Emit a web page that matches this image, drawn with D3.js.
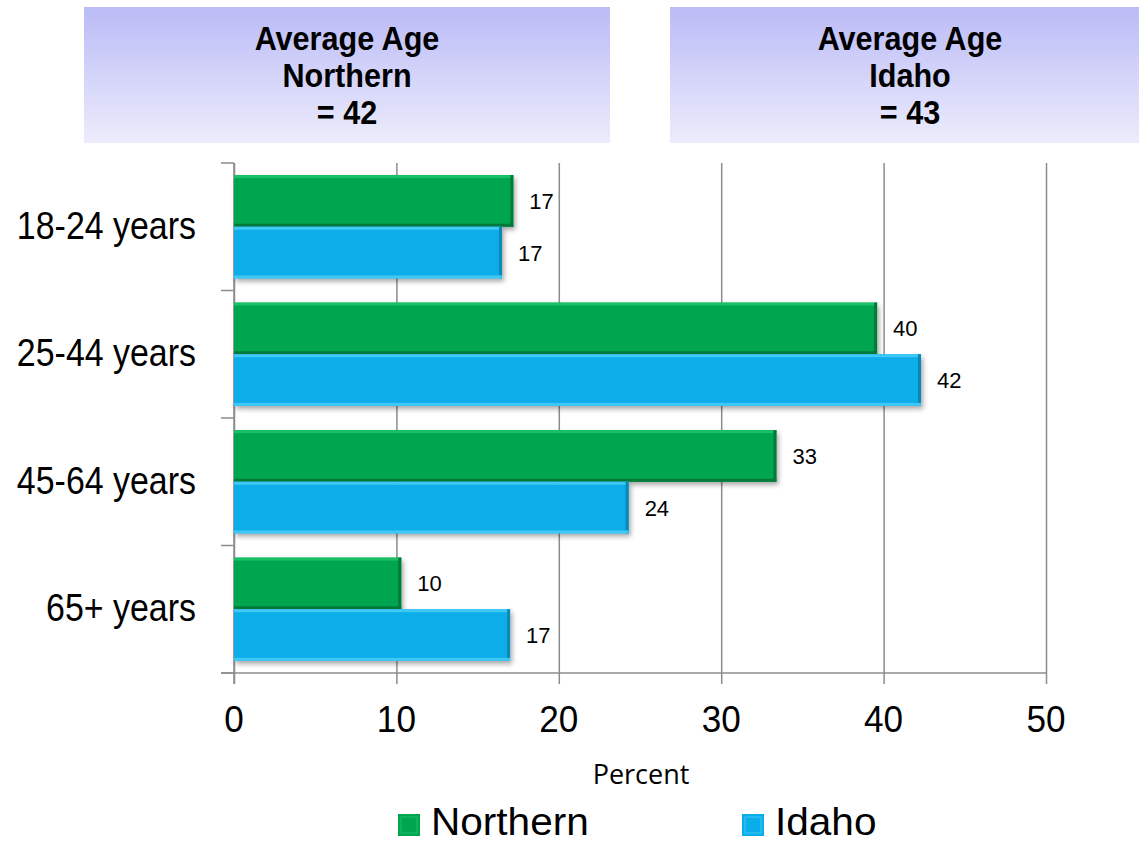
<!DOCTYPE html>
<html>
<head>
<meta charset="utf-8">
<script src="https://cdn.jsdelivr.net/npm/d3@7"></script>
<style>
  body { margin: 0; background: #fff; }
  svg { display: block; font-family: "Liberation Sans", Arial, sans-serif; }
</style>
</head>
<body>
<div id="chart"></div>
<script>
// chart data
const categories = ["18-24 years", "25-44 years", "45-64 years", "65+ years"];
const seriesNames = ["Northern", "Idaho"];
const northern = [17.2, 39.6, 33.4, 10.3];
const idaho = [16.5, 42.3, 24.3, 17.0];
const labelsNorthern = ["17", "40", "33", "10"];
const labelsIdaho = ["17", "42", "24", "17"];
const xTicks = [0, 10, 20, 30, 40, 50];
const headerLines = [
    ["Average Age", "Northern", "= 42"],
    ["Average Age", "Idaho", "= 43"]
];

const W = 1139, H = 844;
const COLORS = ["#00a64f", "#09ade9"];
const LIGHT = ["#19c066", "#3fc8f5"];
const DARK = ["#037a3a", "#0789b8"];

const svg = d3.select("#chart").append("svg")
    .attr("width", W)
    .attr("height", H);

// text squeezed / stretched horizontally like the original
function squeezedText(parent, px, py, sx, str) {
    return parent.append("text")
        .attr("transform", "translate(" + px + "," + py + ") scale(" + sx + ",1)")
        .text(str);
}

const defs = svg.append("defs");
let hg = defs.append("linearGradient").attr("id", "hdr")
    .attr("x1", 0).attr("y1", 0).attr("x2", 0).attr("y2", 1);
hg.append("stop").attr("offset", "0%").attr("stop-color", "#bbbbf7");
hg.append("stop").attr("offset", "100%").attr("stop-color", "#ececfc");

let shadow = defs.append("filter").attr("id", "shadow")
    .attr("x", "-5%").attr("y", "-20%").attr("width", "115%").attr("height", "150%");
shadow.append("feDropShadow")
    .attr("dx", 2).attr("dy", 3).attr("stdDeviation", 2.5)
    .attr("flood-color", "#000").attr("flood-opacity", 0.35);

// header boxes
const boxes = [{ x: 84, w: 526, cx: 347 }, { x: 670, w: 480, cx: 910 }];
boxes.forEach(function (b, i) {
    svg.append("rect")
        .attr("x", b.x).attr("y", 7)
        .attr("width", b.w).attr("height", 136)
        .attr("fill", "url(#hdr)");
    headerLines[i].forEach(function (t, j) {
        squeezedText(svg, b.cx, 50 + j * 37, 0.9, t)
            .attr("text-anchor", "middle")
            .attr("font-size", 34).attr("font-weight", "bold");
    });
});

// plot area
const plot = { left: 234, right: 1046, top: 163, bottom: 673 };

const x = d3.scaleLinear()
    .domain([0, 50])
    .range([plot.left, plot.right]);

const y = d3.scaleBand()
    .domain(categories)
    .range([plot.top, plot.bottom])
    .paddingInner(0.19)
    .paddingOuter(0.095);

const sub = d3.scaleBand()
    .domain(seriesNames)
    .range([0, y.bandwidth()]);

const grid = "#8c8c8c";

// vertical gridlines
svg.append("g")
    .attr("transform", "translate(0," + plot.bottom + ")")
    .call(d3.axisBottom(x).tickValues(xTicks).tickSize(-(plot.bottom - plot.top)).tickFormat(""))
    .call(function (g) {
        g.select(".domain").remove();
        g.selectAll("line").attr("stroke", grid).attr("stroke-width", 1.5);
    });

// x axis ticks + labels
let xAxis = svg.append("g")
    .attr("transform", "translate(0," + plot.bottom + ")")
    .call(d3.axisBottom(x).tickValues(xTicks).tickSize(11).tickFormat(""));
xAxis.select(".domain").remove();
xAxis.selectAll("line").attr("stroke", grid).attr("stroke-width", 1.5);
xTicks.forEach(function (t) {
    squeezedText(svg, x(t), 732, 0.95, t)
        .attr("text-anchor", "middle")
        .attr("font-size", 37);
});
svg.append("line")
    .attr("x1", 221).attr("x2", plot.right)
    .attr("y1", plot.bottom).attr("y2", plot.bottom)
    .attr("stroke", grid).attr("stroke-width", 1.5);

// y axis with band boundary ticks
const bandEdges = [];
const step = (plot.bottom - plot.top) / categories.length;
for (let i = 0; i <= categories.length; i++) bandEdges.push(plot.top + i * step);
let yAxis = svg.append("g");
yAxis.append("line")
    .attr("x1", plot.left).attr("x2", plot.left)
    .attr("y1", plot.top).attr("y2", plot.bottom + 11)
    .attr("stroke", grid).attr("stroke-width", 1.5);
yAxis.selectAll(".ytick").data(bandEdges).enter().append("line")
    .attr("x1", 221).attr("x2", plot.left)
    .attr("y1", function (d) { return d; }).attr("y2", function (d) { return d; })
    .attr("stroke", grid).attr("stroke-width", 1.5);
categories.forEach(function (c, i) {
    squeezedText(yAxis, 196, bandEdges[i] + step / 2 + 12, 0.87, c)
        .attr("text-anchor", "end")
        .attr("font-size", 39);
});

// bars
const series = [
    { name: seriesNames[0], values: northern, labels: labelsNorthern },
    { name: seriesNames[1], values: idaho, labels: labelsIdaho }
];

series.forEach(function (s, si) {
    let g = svg.append("g");
    let bars = g.selectAll("g.bar")
        .data(categories.map(function (c, i) { return { cat: c, v: s.values[i], label: s.labels[i] }; }))
        .enter().append("g");
    bars.append("rect")
        .attr("x", x(0))
        .attr("y", function (d) { return y(d.cat) + sub(s.name); })
        .attr("width", function (d) { return x(d.v) - x(0); })
        .attr("height", sub.bandwidth())
        .attr("fill", COLORS[si])
        .attr("filter", "url(#shadow)");
    // bevel: light top edge, dark right edge
    bars.append("rect")
        .attr("x", x(0))
        .attr("y", function (d) { return y(d.cat) + sub(s.name); })
        .attr("width", function (d) { return x(d.v) - x(0); })
        .attr("height", 3)
        .attr("fill", LIGHT[si]);
    bars.append("rect")
        .attr("x", function (d) { return x(d.v) - 3; })
        .attr("y", function (d) { return y(d.cat) + sub(s.name); })
        .attr("width", 3)
        .attr("height", sub.bandwidth())
        .attr("fill", DARK[si]);
    bars.append("rect")
        .attr("x", x(0))
        .attr("y", function (d) { return y(d.cat) + sub(s.name) + sub.bandwidth() - 3; })
        .attr("width", function (d) { return x(d.v) - x(0); })
        .attr("height", 3)
        .attr("fill", si === 0 ? DARK[si] : LIGHT[si]);
    bars.append("text")
        .attr("x", function (d) { return x(d.v) + 16; })
        .attr("y", function (d) { return y(d.cat) + sub(s.name) + sub.bandwidth() / 2 + 8; })
        .attr("font-size", 22)
        .text(function (d) { return d.label; });
});

// axis title
svg.append("text")
    .attr("x", 641).attr("y", 784)
    .attr("text-anchor", "middle")
    .attr("font-family", "Open Sans, sans-serif")
    .attr("font-size", 27)
    .text("Percent");

// legend
const legendX = [398, 742];
series.forEach(function (s, si) {
    let lg = svg.append("g").attr("transform", "translate(" + legendX[si] + ",814)");
    lg.append("rect").attr("width", 22).attr("height", 22).attr("fill", COLORS[si]);
    lg.append("rect").attr("x", 3).attr("y", 3).attr("width", 16).attr("height", 16)
        .attr("fill", "none").attr("stroke", LIGHT[si]).attr("stroke-width", 1);
    squeezedText(lg, 33, 21, 1.04, s.name)
        .attr("font-size", 39);
});
</script>
</body>
</html>
